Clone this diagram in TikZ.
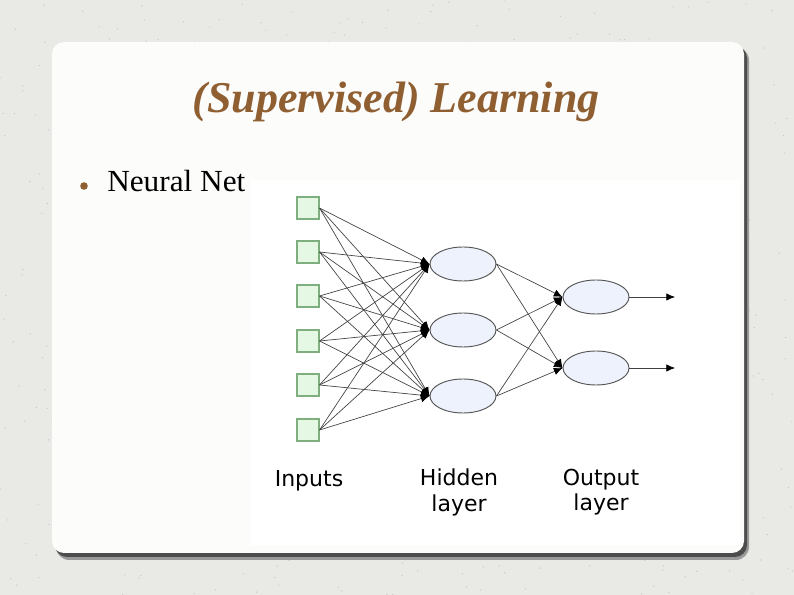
\documentclass[tikz,border=0pt]{standalone}
\usepackage{graphicx}
\usepackage{fontspec}
\setmainfont{Liberation Serif}
\newfontfamily\labelfont{DejaVu Sans}
\usetikzlibrary{arrows.meta,shapes.geometric}
\definecolor{bgc}{HTML}{E9E9E5}
\definecolor{panelc}{HTML}{FCFCFB}
\definecolor{titlec}{HTML}{8F5F32}
\definecolor{sqfill}{HTML}{E4F8E4}
\definecolor{sqdraw}{HTML}{7FAF7F}
\definecolor{elfill}{HTML}{EDF2FC}
\definecolor{eldraw}{HTML}{555555}
\tikzset{
  inbox/.style={draw=sqdraw, fill=sqfill, line width=0.8pt, minimum width=16.5pt, minimum height=16.5pt, inner sep=0pt},
  neuron/.style={draw=eldraw, fill=elfill, ellipse, line width=0.7pt, minimum width=49.5pt, minimum height=25.5pt, inner sep=0pt},
  conn/.style={draw=black!75, line width=0.5pt, -{Latex[length=6.5pt,width=5.5pt,color=black]}},
  lbl/.style={font=\labelfont\fontsize{16.5}{19}\selectfont, align=center, text=black, inner sep=0pt},
}
\begin{document}
\begin{tikzpicture}[x=0.75pt,y=-0.75pt]
\useasboundingbox (0,0) rectangle (794,595);
% background
\fill[bgc] (0,0) rectangle (794,595);
\pgfmathsetseed{7}
\foreach \i in {1,...,700}{
  \pgfmathsetmacro{\xx}{794*rnd}
  \pgfmathsetmacro{\yy}{595*rnd}
  \fill[black!22] (\xx,\yy) circle (0.7);
}
% shadow + panel
\fill[black!40, rounded corners=10pt] (56,47) rectangle (749,560);
\fill[black!70, rounded corners=9pt] (55,46) rectangle (747,557);
\fill[panelc, rounded corners=9pt] (52,42) rectangle (744,553);
\fill[white] (250,180) rectangle (740,545);
% title
\node[anchor=base, inner sep=0pt] (title) at (396,113) {\fontsize{33}{38}\selectfont\bfseries\itshape\color{titlec}(Supervised) Learning};
% bullet
\fill[titlec] (84,186) circle (3.8);
\node[anchor=base west, inner sep=0pt] (bullet) at (107,192) {\fontsize{23}{27}\selectfont\scalebox{1.02}[1]{Neural Net}};
% inputs
\foreach \i/\y in {1/208,2/252,3/296,4/341,5/385,6/430}{
  \node[inbox] (in\i) at (308,\y) {};
}
% hidden
\foreach \i/\y in {1/264,2/330,3/396}{
  \node[neuron] (h\i) at (463,\y) {};
}
% output
\foreach \i/\y in {1/297,2/368}{
  \node[neuron] (o\i) at (596,\y) {};
  \coordinate (out\i) at (675,\y);
}
% connectors
\foreach \i in {1,...,6}{
  \foreach \j in {1,2,3}{
    \draw[conn] (in\i.east) -- (h\j.west);
  }
}
\foreach \j in {1,2,3}{
  \foreach \k in {1,2}{
    \draw[conn] (h\j.east) -- (o\k.west);
  }
}
\foreach \k in {1,2}{
  \draw[conn] (o\k.east) -- (out\k);
}
% labels
\node[lbl, anchor=north] (linputs) at (309,470) {Inputs};
\node[lbl, anchor=north] (lhidden) at (459,469) {Hidden\\layer};
\node[lbl, anchor=north] (loutput) at (601,469) {Output\\layer};
\end{tikzpicture}
\end{document}
